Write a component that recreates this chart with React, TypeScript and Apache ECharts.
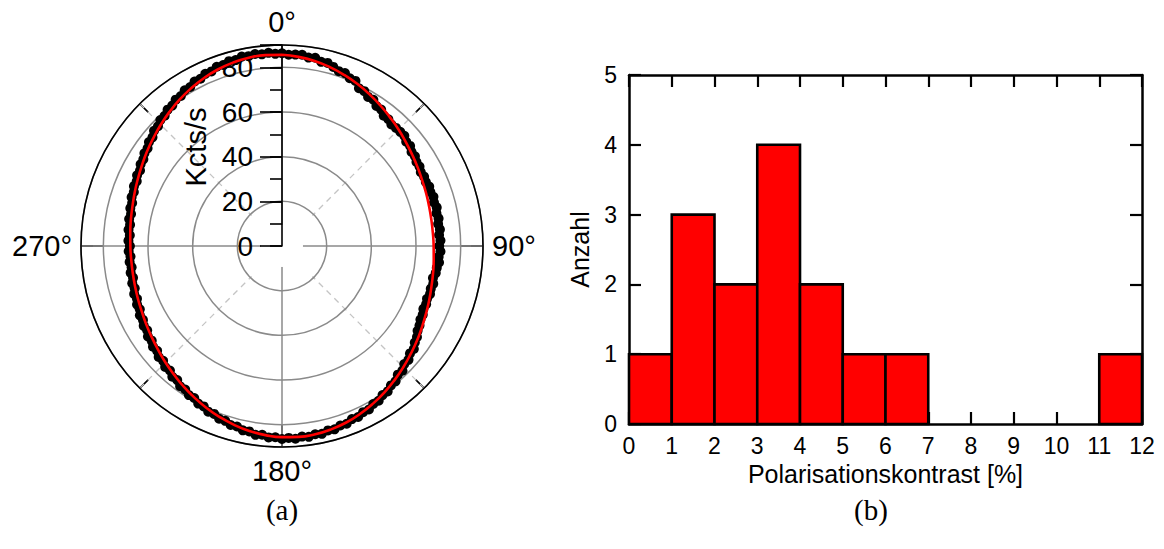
import { useEffect, useRef } from "react";
import * as echarts from "echarts";

// ---- (a) polarizer scan: count rate in Kcts/s, one reading every 2 degrees ----
const scanStepDeg = 2;
const countRates = [
  86.3, 85.7, 85.9, 86.1, 85.2, 85.6, 84.3, 84.5, 83.4, 82.3,
  82.4, 81.0, 80.9, 78.6, 78.5, 77.1, 77.2, 75.6, 75.5, 74.0,
  74.1, 73.2, 73.5, 73.6, 73.7, 72.6, 72.8, 71.7, 71.8, 71.0,
  71.1, 70.4, 70.8, 70.5, 71.1, 70.7, 71.3, 70.8, 71.4, 70.7,
  71.2, 70.6, 71.1, 70.5, 71.0, 70.4, 71.0, 70.3, 70.7, 70.0,
  69.9, 69.1, 69.8, 69.3, 69.7, 69.1, 69.6, 69.3, 70.1, 70.2,
  71.1, 71.6, 72.9, 73.5, 74.9, 74.8, 76.2, 76.1, 77.6, 77.5,
  79.1, 79.2, 80.5, 80.5, 81.7, 81.7, 82.9, 82.8, 83.8, 83.6,
  84.7, 84.5, 85.4, 85.1, 86.0, 85.6, 86.3, 85.8, 86.5, 86.0,
  86.4, 85.7, 85.9, 85.0, 85.4, 84.3, 84.4, 83.3, 83.4, 82.3,
  82.3, 81.1, 81.2, 79.9, 79.9, 78.6, 78.7, 77.5, 77.6, 76.2,
  76.4, 75.0, 75.3, 74.0, 74.3, 73.0, 73.3, 72.1, 72.4, 71.2,
  71.5, 70.5, 70.8, 69.7, 70.0, 69.1, 69.6, 68.6, 69.1, 68.2,
  68.8, 68.0, 68.6, 68.0, 68.7, 68.1, 68.8, 68.3, 69.1, 68.7,
  69.5, 69.1, 70.0, 69.8, 70.8, 70.6, 71.5, 71.2, 72.2, 72.0,
  73.1, 73.2, 74.3, 74.4, 75.6, 75.7, 77.1, 77.2, 78.4, 78.5,
  79.7, 79.8, 81.0, 81.0, 82.2, 82.2, 83.4, 83.3, 84.4, 84.3,
  85.4, 85.2, 86.1, 85.8, 86.7, 86.3, 86.8, 86.3, 86.7, 86.1,
];

// fitted curve, sampled every 5 degrees
const fitAngles = [
  0, 5, 10, 15, 20, 25, 30, 35, 40, 45, 50, 55, 60, 65, 70, 75, 80, 85,
  90, 95, 100, 105, 110, 115, 120, 125, 130, 135, 140, 145, 150, 155, 160, 165, 170, 175,
  180, 185, 190, 195, 200, 205, 210, 215, 220, 225, 230, 235, 240, 245, 250, 255, 260, 265,
  270, 275, 280, 285, 290, 295, 300, 305, 310, 315, 320, 325, 330, 335, 340, 345, 350, 355, 360,
];
const fitRates = [
  85.6, 85.0, 84.1, 82.9, 81.5, 80.0, 78.4, 76.8, 75.2, 73.8, 72.4, 71.2, 70.2, 69.3, 68.7, 68.2, 67.9, 67.8,
  67.9, 68.2, 68.7, 69.3, 70.2, 71.2, 72.4, 73.8, 75.2, 76.8, 78.4, 80.0, 81.5, 82.9, 84.1, 85.0, 85.6, 85.8,
  85.6, 85.0, 84.1, 82.9, 81.5, 80.0, 78.4, 76.8, 75.2, 73.8, 72.4, 71.2, 70.2, 69.3, 68.7, 68.2, 67.9, 67.8,
  67.9, 68.2, 68.7, 69.3, 70.2, 71.2, 72.4, 73.8, 75.2, 76.8, 78.4, 80.0, 81.5, 82.9, 84.1, 85.0, 85.6, 85.8, 85.6,
];

const radialMax = 90;
const radialMajor = 20;
const radialMinor = 10;

// ---- (b) histogram of polarisation contrast ----
const binEdges = [0, 1, 2, 3, 4, 5, 6, 7, 8, 9, 10, 11, 12];
const binCounts = [1, 3, 2, 4, 2, 1, 1, 0, 0, 0, 0, 1];
const countMax = 5;

const SANS = '"Liberation Sans", Arial, Helvetica, sans-serif';
const SERIF = '"Liberation Serif", "DejaVu Serif", serif';

const CX = 282;
const CY = 246;
const R = 201;

export default function App() {
  const ref = useRef<HTMLDivElement>(null);

  useEffect(() => {
    if (!ref.current) return;
    const chart = echarts.init(ref.current, null, { renderer: "svg" });

    const scanData = countRates.map((r, i) => [r, i * scanStepDeg]);
    const fitData = fitRates.map((r, i) => [r, fitAngles[i]]);
    const bars = binCounts
      .map((c, i) => [binEdges[i], binEdges[i + 1], c])
      .filter((b) => b[2] > 0);

    const polarBase = { center: [CX, CY], radius: R };
    const hiddenRadius = (polarIndex: number) => ({
      polarIndex,
      type: "value",
      min: 0,
      max: radialMax,
      show: false,
    });

    const option: any = {
      animation: false,
      textStyle: { fontFamily: SANS },
      polar: [polarBase, polarBase, polarBase, polarBase],
      angleAxis: [
        {
          // cardinal directions: solid grid, long ticks, labels
          polarIndex: 0,
          type: "value",
          min: 0,
          max: 360,
          interval: 90,
          startAngle: 90,
          clockwise: true,
          z: 2,
          axisLine: { show: false },
          axisTick: { show: true, inside: true, length: 22, lineStyle: { color: "#000", width: 1.6 } },
          axisLabel: {
            show: true,
            margin: 9,
            fontSize: 29,
            color: "#000",
            fontFamily: SANS,
            formatter: (v: number) => (v === 360 ? "" : v + "°"),
          },
          splitLine: { show: true, lineStyle: { color: "#8a8a8a", width: 1.5 } },
        },
        {
          // diagonals: dashed grid, short ticks
          polarIndex: 1,
          type: "value",
          min: 0,
          max: 360,
          interval: 45,
          startAngle: 90,
          clockwise: true,
          z: 0,
          axisLine: { show: false },
          axisTick: { show: true, inside: true, length: 12, lineStyle: { color: "#000", width: 1.6 } },
          axisLabel: { show: false },
          splitLine: {
            show: true,
            lineStyle: { color: ["transparent", "#c4c4c4"], width: 1.3, type: [6, 5] },
          },
        },
        {
          polarIndex: 2,
          type: "value",
          min: 0,
          max: 360,
          startAngle: 90,
          clockwise: true,
          show: false,
        },
        {
          // outer black circle on top of the grid rings
          polarIndex: 3,
          type: "value",
          min: 0,
          max: 360,
          interval: 90,
          startAngle: 90,
          clockwise: true,
          z: 5,
          axisLine: { show: true, lineStyle: { color: "#000", width: 1.6 } },
          axisTick: { show: false },
          axisLabel: { show: false },
          splitLine: { show: false },
        },
      ],
      radiusAxis: [
        hiddenRadius(0),
        hiddenRadius(1),
        {
          polarIndex: 2,
          type: "value",
          min: 0,
          max: radialMax,
          interval: radialMajor,
          z: 4,
          axisLine: { show: true, lineStyle: { color: "#000", width: 1.6 } },
          axisTick: { show: true, length: 22, lineStyle: { color: "#000", width: 1.6 } },
          axisLabel: {
            show: true,
            margin: 29,
            fontSize: 28,
            color: "#000",
            fontFamily: SANS,
            formatter: (v: number) => (v === radialMax ? "" : String(v)),
          },
          splitLine: { show: true, lineStyle: { color: "#8a8a8a", width: 1.5 } },
        },
        {
          polarIndex: 3,
          type: "value",
          min: 0,
          max: radialMax,
          interval: radialMinor,
          z: 4,
          axisLine: { show: false },
          axisTick: { show: true, length: 12, lineStyle: { color: "#000", width: 1.6 } },
          axisLabel: { show: false },
          splitLine: { show: false },
        },
      ],
      grid: { left: 629, top: 75, width: 513, height: 349, containLabel: false },
      xAxis: [
        {
          type: "value",
          min: 0,
          max: 12,
          interval: 1,
          position: "bottom",
          axisLine: { show: true, onZero: false, lineStyle: { color: "#000", width: 2.5 } },
          axisTick: { show: true, inside: true, length: 12, lineStyle: { color: "#000", width: 2.2 } },
          axisLabel: { show: true, margin: 10, fontSize: 23, color: "#000", fontFamily: SANS },
          splitLine: { show: false },
          name: "Polarisationskontrast [%]",
          nameLocation: "middle",
          nameGap: 37,
          nameTextStyle: { fontSize: 25, color: "#000", fontFamily: SANS },
        },
        {
          type: "value",
          min: 0,
          max: 12,
          interval: 1,
          position: "top",
          axisLine: { show: true, onZero: false, lineStyle: { color: "#000", width: 2.5 } },
          axisTick: { show: true, inside: true, length: 12, lineStyle: { color: "#000", width: 2.2 } },
          axisLabel: { show: false },
          splitLine: { show: false },
        },
      ],
      yAxis: [
        {
          type: "value",
          min: 0,
          max: countMax,
          interval: 1,
          position: "left",
          axisLine: { show: true, onZero: false, lineStyle: { color: "#000", width: 2.5 } },
          axisTick: { show: true, inside: true, length: 12, lineStyle: { color: "#000", width: 2.2 } },
          axisLabel: { show: true, margin: 12, fontSize: 23, color: "#000", fontFamily: SANS },
          splitLine: { show: false },
          name: "Anzahl",
          nameLocation: "middle",
          nameGap: 37,
          nameTextStyle: { fontSize: 25, color: "#000", fontFamily: SANS },
        },
        {
          type: "value",
          min: 0,
          max: countMax,
          interval: 1,
          position: "right",
          axisLine: { show: true, onZero: false, lineStyle: { color: "#000", width: 2.5 } },
          axisTick: { show: true, inside: true, length: 12, lineStyle: { color: "#000", width: 2.2 } },
          axisLabel: { show: false },
          splitLine: { show: false },
        },
      ],
      graphic: [
        // keep the centre of the polar grid clear
        { type: "circle", z: 1, silent: true, shape: { cx: CX, cy: CY, r: 43 }, style: { fill: "#fff" } },
        { type: "circle", z: 3, silent: true, shape: { cx: CX, cy: CY, r: 21 }, style: { fill: "#fff" } },
        {
          type: "text",
          z: 10,
          x: 196,
          y: 147,
          rotation: Math.PI / 2,
          style: {
            text: "Kcts/s",
            font: `29px ${SANS}`,
            fill: "#000",
            textAlign: "center",
            textVerticalAlign: "middle",
          },
        },
        {
          type: "text",
          z: 10,
          x: 282,
          y: 510,
          style: { text: "(a)", font: `29px ${SERIF}`, fill: "#000", textAlign: "center", textVerticalAlign: "middle" },
        },
        {
          type: "text",
          z: 10,
          x: 871,
          y: 510,
          style: { text: "(b)", font: `29px ${SERIF}`, fill: "#000", textAlign: "center", textVerticalAlign: "middle" },
        },
      ],
      series: [
        {
          type: "scatter",
          coordinateSystem: "polar",
          polarIndex: 2,
          data: scanData,
          symbol: "circle",
          symbolSize: 10,
          itemStyle: { color: "#000", opacity: 1 },
          z: 6,
          silent: true,
        },
        {
          type: "line",
          coordinateSystem: "polar",
          polarIndex: 2,
          data: fitData,
          smooth: true,
          showSymbol: false,
          lineStyle: { color: "#ff0000", width: 2.6 },
          z: 7,
          silent: true,
        },
        {
          type: "custom",
          xAxisIndex: 0,
          yAxisIndex: 0,
          data: bars,
          encode: { x: [0, 1], y: 2 },
          z: 3,
          renderItem: (_params: any, api: any) => {
            const p0 = api.coord([api.value(0), api.value(2)]);
            const p1 = api.coord([api.value(1), 0]);
            return {
              type: "rect",
              shape: { x: p0[0], y: p0[1], width: p1[0] - p0[0], height: p1[1] - p0[1] },
              style: { fill: "#ff0000", stroke: "#000", lineWidth: 2.6 },
            };
          },
        },
      ],
    };

    chart.setOption(option);
    return () => chart.dispose();
  }, []);

  return (
    <div
      ref={ref}
      style={{ position: "absolute", left: 0, top: 0, width: 1164, height: 549, background: "#fff" }}
    />
  );
}
